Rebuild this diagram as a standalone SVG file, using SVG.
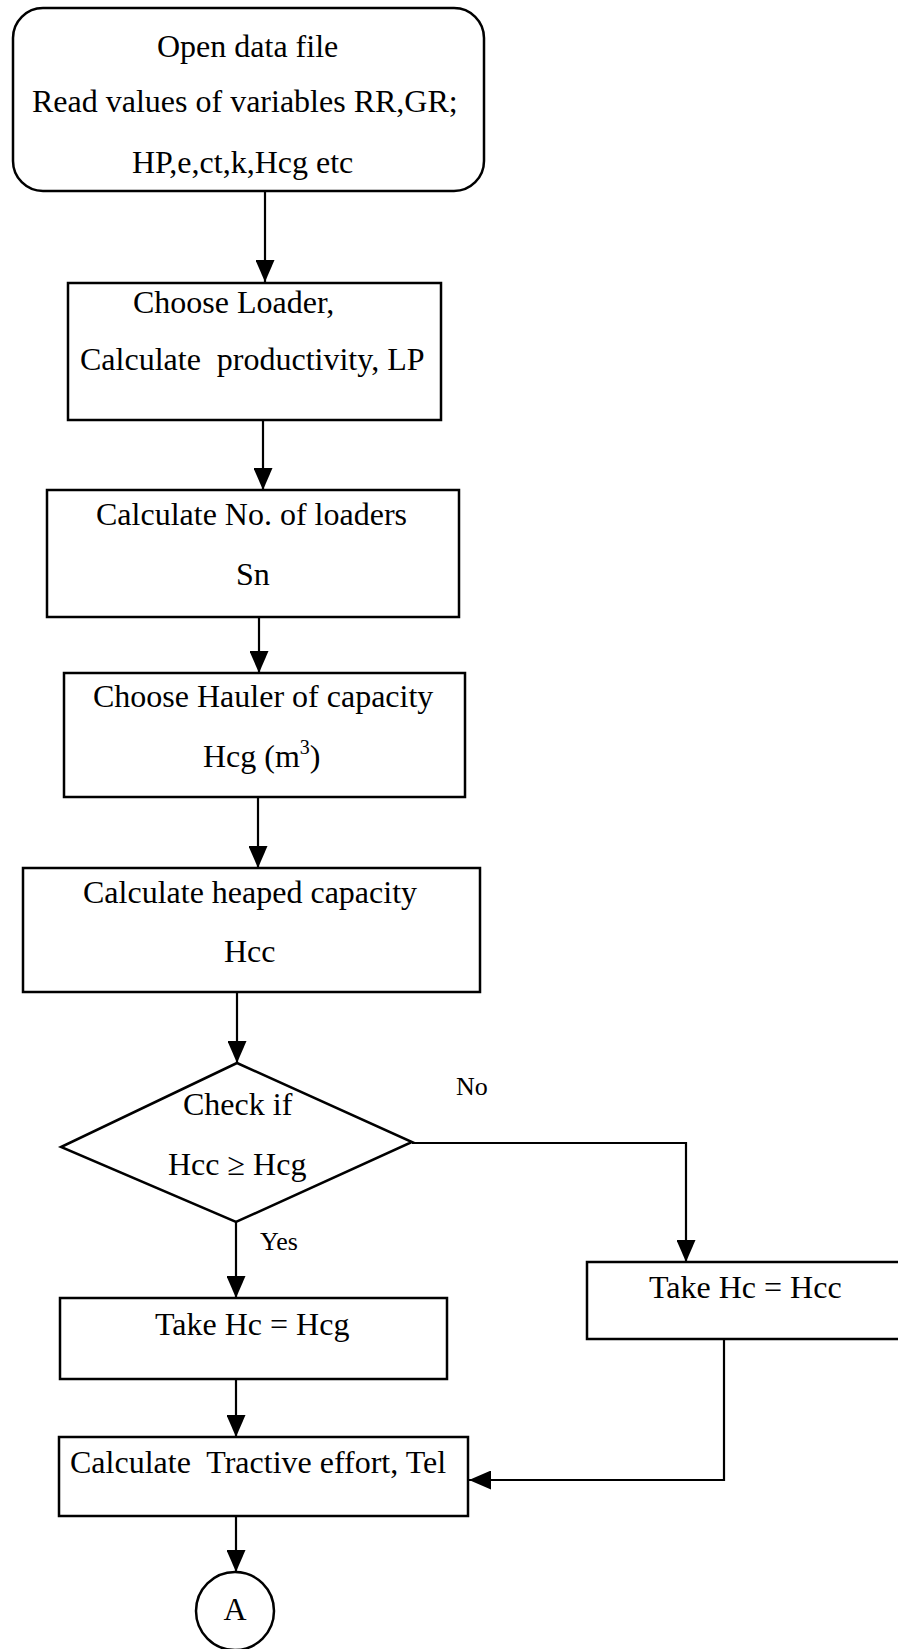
<svg xmlns="http://www.w3.org/2000/svg" width="898" height="1649" viewBox="0 0 898 1649">
  <style>
    .box { fill: #ffffff; stroke: #000000; stroke-width: 2.5; }
    .line { fill: none; stroke: #000000; stroke-width: 2.2; }
    .t { font-family: "Liberation Serif", "Times New Roman", serif; font-size: 32px; fill: #000000; white-space: pre; }
    .lbl { font-family: "Liberation Serif", "Times New Roman", serif; font-size: 26px; fill: #000000; }
  </style>
  <defs>
    <marker id="arrow" viewBox="0 0 22 19" refX="22" refY="9.5" markerWidth="22" markerHeight="19" markerUnits="userSpaceOnUse" orient="auto">
      <path d="M0,0 L22,9.5 L0,19 Z" fill="#000000"/>
    </marker>
  </defs>
  <rect width="898" height="1649" fill="#ffffff"/>

  <!-- flow connectors -->
  <g id="connectors">
    <line class="line" x1="265" y1="191" x2="265" y2="282" marker-end="url(#arrow)"/>
    <line class="line" x1="263" y1="420" x2="263" y2="490" marker-end="url(#arrow)"/>
    <line class="line" x1="259" y1="617" x2="259" y2="673" marker-end="url(#arrow)"/>
    <line class="line" x1="258" y1="797" x2="258" y2="868" marker-end="url(#arrow)"/>
    <line class="line" x1="237" y1="992" x2="237" y2="1063" marker-end="url(#arrow)"/>
    <polyline class="line" points="412,1143 686,1143 686,1262" marker-end="url(#arrow)"/>
    <line class="line" x1="236" y1="1222" x2="236" y2="1298" marker-end="url(#arrow)"/>
    <line class="line" x1="236" y1="1379" x2="236" y2="1437" marker-end="url(#arrow)"/>
    <polyline class="line" points="724,1339 724,1480 469,1480" marker-end="url(#arrow)"/>
    <line class="line" x1="236" y1="1516" x2="236" y2="1572" marker-end="url(#arrow)"/>
    <text class="lbl" x="456" y="1095">No</text>
    <text class="lbl" x="260" y="1250">Yes</text>
  </g>

  <g id="start">
    <rect class="box" x="13" y="8" width="471" height="183" rx="30" ry="30"/>
    <text class="t" x="157" y="57">Open data file</text>
    <text class="t" x="32" y="112">Read values of variables RR,GR;</text>
    <text class="t" x="132" y="173">HP,e,ct,k,Hcg etc</text>
  </g>

  <g id="choose-loader">
    <rect class="box" x="68" y="283" width="373" height="137"/>
    <text class="t" x="133" y="313">Choose Loader,</text>
    <text class="t" x="80" y="370">Calculate  productivity, LP</text>
  </g>

  <g id="loaders">
    <rect class="box" x="47" y="490" width="412" height="127"/>
    <text class="t" x="96" y="525">Calculate No. of loaders</text>
    <text class="t" x="236" y="585">Sn</text>
  </g>

  <g id="hauler">
    <rect class="box" x="64" y="673" width="401" height="124"/>
    <text class="t" x="93" y="707">Choose Hauler of capacity</text>
    <text class="t" x="203" y="767">Hcg (m<tspan font-size="20" dy="-13">3</tspan><tspan dy="13">)</tspan></text>
  </g>

  <g id="heaped">
    <rect class="box" x="23" y="868" width="457" height="124"/>
    <text class="t" x="83" y="903">Calculate heaped capacity</text>
    <text class="t" x="224" y="962">Hcc</text>
  </g>

  <g id="check">
    <polygon class="box" points="237,1063 412,1142 236,1222 61,1147"/>
    <text class="t" x="183" y="1115">Check if</text>
    <text class="t" x="168" y="1175">Hcc ≥ Hcg</text>
  </g>

  <g id="take-hcg">
    <rect class="box" x="60" y="1298" width="387" height="81"/>
    <text class="t" x="155" y="1335">Take Hc = Hcg</text>
  </g>

  <g id="take-hcc">
    <rect class="box" x="587" y="1262" width="320" height="77"/>
    <text class="t" x="649" y="1298">Take Hc = Hcc</text>
  </g>

  <g id="tractive">
    <rect class="box" x="59" y="1437" width="409" height="79"/>
    <text class="t" x="70" y="1473">Calculate  Tractive effort, Tel</text>
  </g>

  <g id="connector-a">
    <circle class="box" cx="235" cy="1611" r="39"/>
    <text class="t" x="235" y="1620" text-anchor="middle">A</text>
  </g>
</svg>
